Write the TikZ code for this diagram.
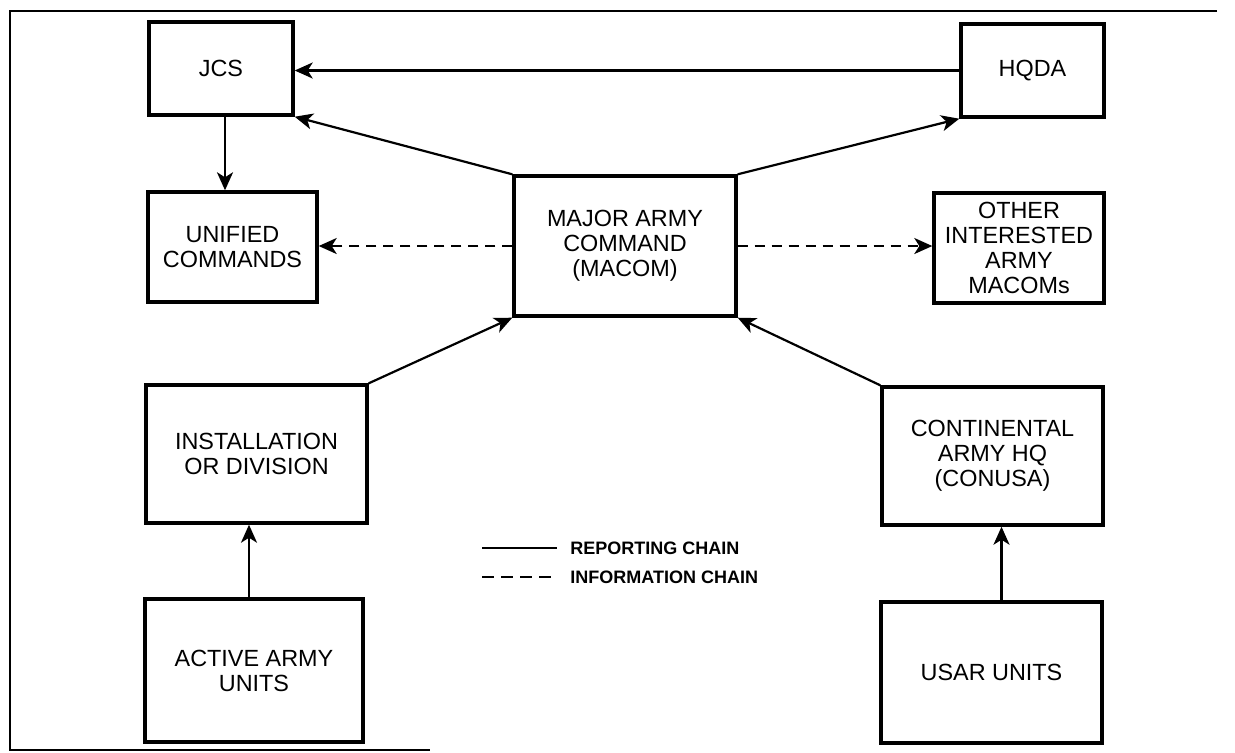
\documentclass[tikz,border=0pt]{standalone}
\usepackage{fontspec}
\setmainfont{Liberation Sans}
\usetikzlibrary{arrows.meta,calc}
\begin{document}
\begin{tikzpicture}[x=0.5pt,y=-0.5pt,
  orgbox/.style={draw,line width=1.7pt,inner sep=0pt,align=center,
    font=\fontsize{11.7}{12.5}\selectfont},
  rep/.style={line width=1.1pt,-{Stealth[length=9pt,width=8pt,inset=2.5pt]}},
  info/.style={rep,dash pattern=on 5pt off 3.5pt},
  legtext/.style={anchor=west,inner sep=0pt,font=\fontsize{9}{10}\selectfont\bfseries}]
\useasboundingbox (0,0) rectangle (1235,752);
% frame
\draw[line width=1.4pt] (1217,11) -- (10,11) -- (10,750) -- (430,750);
% boxes
\node[orgbox,minimum width=72pt,minimum height=46.5pt] (jcs) at (221,68.5) {JCS};
\node[orgbox,minimum width=71.5pt,minimum height=46.5pt] (hqda) at (1032.5,70.5) {HQDA};
\node[orgbox,minimum width=84.5pt,minimum height=55pt] (unified) at (232.5,247) {UNIFIED\\COMMANDS};
\node[orgbox,minimum width=111pt,minimum height=70pt] (macom) at (625,246) {MAJOR ARMY\\COMMAND\\(MACOM)};
\node[orgbox,minimum width=85pt,minimum height=55pt] (other) at (1019,248) {OTHER\\INTERESTED\\ARMY\\MACOMs};
\node[orgbox,minimum width=110.5pt,minimum height=69pt] (inst) at (256.5,454) {INSTALLATION\\OR DIVISION};
\node[orgbox,minimum width=110.5pt,minimum height=69pt] (cont) at (992.5,456) {CONTINENTAL\\ARMY HQ\\(CONUSA)};
\node[orgbox,minimum width=109pt,minimum height=71.5pt] (active) at (254,670.5) {ACTIVE ARMY\\UNITS};
\node[orgbox,minimum width=110.5pt,minimum height=70.5pt] (usar) at (991.5,672.5) {USAR UNITS};
% anchor points for vertical connectors
\coordinate (jcsout) at ($(jcs.south)+(4,0)$);
\coordinate (actout) at ($(active.north)+(-5,0)$);
\coordinate (usarout) at ($(usar.north)+(10,0)$);
% connectors
\draw[rep] (hqda.west) -- (hqda.west -| jcs.east);
\draw[rep] (macom.north west) -- (jcs.south east);
\draw[rep] (macom.north east) -- (hqda.south west);
\draw[rep] (jcsout) -- (jcsout |- unified.north);
\draw[info] (macom.west) -- (macom.west -| unified.east);
\draw[info] (macom.east) -- (macom.east -| other.west);
\draw[rep] (inst.north east) -- (macom.south west);
\draw[rep] (cont.north west) -- (macom.south east);
\draw[rep] (actout) -- (actout |- inst.south);
\draw[rep] (usarout) -- (usarout |- cont.south);
% legend
\coordinate (l1a) at (482,548); \coordinate (l1b) at (557,548);
\coordinate (l2a) at (482,577); \coordinate (l2b) at (557,577);
\draw[line width=1pt] (l1a) -- (l1b);
\draw[line width=1pt,dash pattern=on 6pt off 3.5pt] (l2a) -- (l2b);
\node[legtext] (leg1) at (570,548) {REPORTING CHAIN};
\node[legtext] (leg2) at (570,577) {INFORMATION CHAIN};
\end{tikzpicture}
\end{document}
